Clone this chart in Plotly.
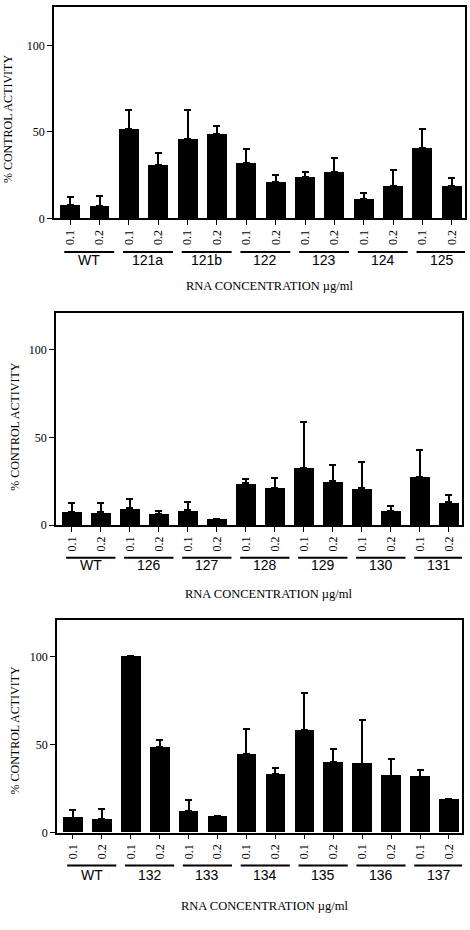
import plotly.graph_objects as go

conc = ["0.1", "0.2"]

groups1 = ["WT", "121a", "121b", "122", "123", "124", "125"]
vals1 = [7.7, 7.1, 51.7, 30.8, 45.8, 48.9, 32.2, 20.9, 23.9, 27.0, 11.3, 18.8, 40.6, 18.8]
err1 = [4.8, 5.7, 11.1, 7.3, 17.0, 4.4, 7.8, 4.0, 2.7, 7.7, 3.5, 9.4, 11.3, 4.6]

groups2 = ["WT", "126", "127", "128", "129", "130", "131"]
vals2 = [7.7, 7.2, 9.6, 6.4, 8.5, 3.6, 23.8, 21.1, 32.5, 24.9, 20.9, 8.1, 27.4, 13.0]
err2 = [4.8, 5.6, 5.1, 1.7, 4.5, None, 2.4, 5.9, 26.2, 9.4, 14.9, 2.7, 15.6, 4.0]

groups3 = ["WT", "132", "133", "134", "135", "136", "137"]
vals3 = [8.5, 7.5, 100, 48.7, 12.2, 9.2, 44.5, 33.3, 58.1, 40.0, 39.1, 32.3, 31.8, 19.0]
err3 = [4.3, 5.7, None, 3.9, 6.2, None, 14.1, 3.2, 21.2, 7.7, 24.8, 9.4, 3.5, None]

W, H = 470, 930
SERIF = "Liberation Serif, Times New Roman, serif"
SANS = "Liberation Sans, Arial, sans-serif"

panels = [
    dict(groups=groups1, vals=vals1, err=err1, xdom=(54, 465), ydom=(7, 220), ymax=122.4,
         line_y=254, lab_y=262, xt=(269, 288), yt=(8, 120)),
    dict(groups=groups2, vals=vals2, err=err2, xdom=(56, 462), ydom=(315, 529), ymax=121.3,
         line_y=562, lab_y=569, xt=(268, 599), yt=(15, 430)),
    dict(groups=groups3, vals=vals3, err=err3, xdom=(57, 462), ydom=(625, 839), ymax=120.5,
         line_y=872, lab_y=882, xt=(264, 913), yt=(15, 736)),
]

fig = go.Figure()
shapes = []
annotations = []
layout = {}

for i, p in enumerate(panels, start=1):
    sfx = "" if i == 1 else str(i)
    n = len(p["vals"])
    xs = list(range(n))
    ticktext = [conc[k % 2] for k in xs]
    fig.add_trace(go.Bar(
        x=xs, y=p["vals"], width=0.68,
        marker=dict(color="black", line=dict(width=0)),
        error_y=dict(type="data", symmetric=False, array=p["err"],
                     arrayminus=[0] * n, color="black", thickness=2, width=3.5),
        xaxis="x" + sfx, yaxis="y" + sfx, showlegend=False,
    ))
    layout["xaxis" + sfx] = dict(
        domain=[p["xdom"][0] / W, p["xdom"][1] / W],
        range=[-0.55, 13.45], anchor="y" + sfx,
        tickmode="array", tickvals=xs, ticktext=ticktext, tickangle=-90,
        ticks="outside", ticklen=5, tickwidth=1.2, tickcolor="black",
        showline=True, linecolor="black", linewidth=1.5, mirror=True,
        showgrid=False, zeroline=False,
        tickfont=dict(family=SERIF, size=12, color="black"),
    )
    layout["yaxis" + sfx] = dict(
        domain=[1 - p["ydom"][1] / H, 1 - p["ydom"][0] / H],
        range=[0, p["ymax"]], anchor="x" + sfx,
        tickmode="array", tickvals=[0, 50, 100], ticktext=["0", "50", "100"],
        ticks="outside", ticklen=5, tickwidth=1.2, tickcolor="black",
        showline=True, linecolor="black", linewidth=1.5, mirror=True,
        showgrid=False, zeroline=False,
        tickfont=dict(family=SERIF, size=12, color="black"),
    )
    for g, name in enumerate(p["groups"]):
        shapes.append(dict(type="line", xref="x" + sfx, yref="paper",
                           x0=2 * g - 0.2, x1=2 * g + 1.5,
                           y0=1 - p["line_y"] / H, y1=1 - p["line_y"] / H,
                           line=dict(color="black", width=2)))
        annotations.append(dict(text=name, xref="x" + sfx, yref="paper",
                                x=2 * g + 0.65, y=1 - p["lab_y"] / H,
                                showarrow=False, xanchor="center", yanchor="middle",
                                font=dict(family=SANS, size=14, color="black")))
    annotations.append(dict(text="RNA CONCENTRATION µg/ml", xref="paper", yref="paper",
                            x=p["xt"][0] / W, y=1 - p["xt"][1] / H, showarrow=False,
                            xanchor="center", yanchor="middle",
                            font=dict(family=SERIF, size=12.5, color="black")))
    annotations.append(dict(text="% CONTROL ACTIVITY", xref="paper", yref="paper",
                            x=p["yt"][0] / W, y=1 - p["yt"][1] / H, showarrow=False,
                            textangle=-90, xanchor="center", yanchor="middle",
                            font=dict(family=SERIF, size=12, color="black")))

fig.update_layout(
    width=W, height=H, margin=dict(l=0, r=0, t=0, b=0),
    paper_bgcolor="white", plot_bgcolor="white",
    bargap=0, shapes=shapes, annotations=annotations, **layout,
)

fig.write_html("out.html")
